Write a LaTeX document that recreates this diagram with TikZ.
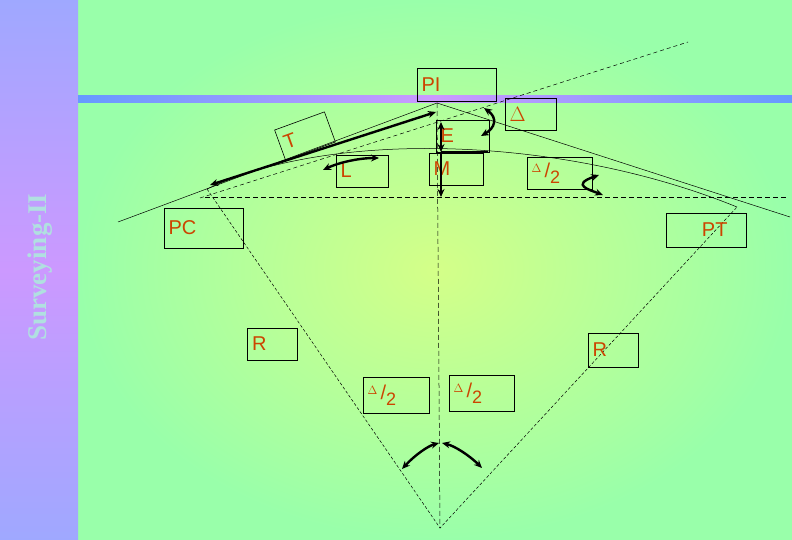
\documentclass[tikz,border=0pt]{standalone}
\usepackage{fontspec}
\setmainfont{Liberation Sans}
\newfontfamily\serifb{Liberation Serif}
\usetikzlibrary{arrows.meta}
\definecolor{lbl}{HTML}{CC4400}
\definecolor{bgA}{HTML}{99FFAA}
\definecolor{bgB}{HTML}{D4FF88}
\definecolor{barA}{HTML}{9FA8FF}
\definecolor{barB}{HTML}{CC99FF}
\definecolor{bandA}{HTML}{6699FF}
\definecolor{ttl}{HTML}{B0E0E0}
\newcommand{\halfD}{\raisebox{5pt}{\fontsize{12}{12}\selectfont$\Delta$}\,\fontsize{20}{20}\selectfont/\raisebox{-6pt}{\fontsize{18}{18}\selectfont 2}}
\begin{document}
\begin{tikzpicture}[x=1pt,y=-1pt,
 lbox/.style={draw=black,line width=0.6pt,text=lbl,font=\fontsize{20}{22}\selectfont},
 thin/.style={line width=0.5pt},
 dsh/.style={line width=0.5pt,dash pattern=on 5pt off 3pt},
 fat/.style={line width=2.4pt,{Stealth[length=8pt,width=7pt]}-{Stealth[length=8pt,width=7pt]}},
 fat1/.style={line width=2.4pt,-{Stealth[length=8pt,width=7pt]}}]
\useasboundingbox (0,0) rectangle (792,540);
\shade[inner color=bgB,outer color=bgA] (78,0) rectangle (792,540);
\shade[top color=barA,bottom color=barA,middle color=barB] (0,0) rectangle (78,540);
\shade[left color=bandA,right color=bandA,middle color=barB] (78,96) rectangle (792,103);
\node[rotate=90,text=ttl,font=\serifb\bfseries\fontsize{27}{29}\selectfont] (title) at (40,267) {Surveying-II};
% points
\coordinate (PC) at (207,189);
\coordinate (PIp) at (437,103);
\coordinate (PTp) at (737,207);
\coordinate (O) at (440,528);
\coordinate (t1) at (118,222);
\coordinate (t2) at (790,217);
\coordinate (d1) at (200,198);
\coordinate (d2) at (688,42);
\coordinate (c1) at (205,197);
\coordinate (c2) at (788,197);
% lines
\draw[thin] (t1) -- (PIp) -- (t2);
\draw[dsh,dash pattern=on 4pt off 3pt] (d1) -- (d2);
\draw[dsh] (c1) -- (c2);
\draw[dsh] (PIp) -- (O);
\draw[thin,dash pattern=on 3pt off 2pt] (PC) -- (O) -- (PTp);
\draw[thin] (PC) .. controls (330,130) and (560,135) .. (PTp);
% labels
\node[lbox,minimum width=79pt,minimum height=33pt,text width=70pt,align=left] (PI) at (456.5,84.5) {PI};
\node[lbox,minimum width=51pt,minimum height=32pt,text width=42pt,align=left] (Dl) at (530.5,114) {\fontsize{20}{20}\selectfont$\Delta$};
\node[lbox,minimum width=53pt,minimum height=32pt,text width=44pt,align=left] (E) at (462.5,136) {E};
\node[lbox,minimum width=54pt,minimum height=32pt,text width=45pt,align=left] (M) at (456,169) {M};
\node[lbox,minimum width=52pt,minimum height=32pt,text width=43pt,align=left] (L) at (362,171) {L};
\node[lbox,minimum width=53pt,minimum height=32pt,text width=44pt,align=left,rotate=20] (T) at (305,136) {T};
\node[lbox,minimum width=65pt,minimum height=32pt,text width=56pt,align=left] (D2a) at (559.5,173) {\halfD};
\node[lbox,minimum width=79pt,minimum height=40pt,text width=70pt,align=left] (PCl) at (203.5,228) {PC};
\node[lbox,minimum width=80pt,minimum height=34pt,text width=71pt,align=right] (PTl) at (706,230) {PT\hspace*{14pt}};
\node[lbox,minimum width=50pt,minimum height=32pt,text width=41pt,align=left] (R1) at (272.5,344) {R};
\node[lbox,minimum width=50pt,minimum height=34pt,text width=41pt,align=left] (R2) at (613,350) {R};
\node[lbox,minimum width=66pt,minimum height=36pt,text width=57pt,align=left] (D2b) at (396,395) {\halfD};
\node[lbox,minimum width=65pt,minimum height=36pt,text width=56pt,align=left] (D2c) at (481.5,393) {\halfD};
% arrows
\coordinate (Ta) at (210,185); \coordinate (Tb) at (436,112);
\draw[fat] (Ta) -- (Tb);
\coordinate (La) at (323,170); \coordinate (Lb) at (379,158);
\draw[fat] (La) .. controls (340,162) and (360,158) .. (Lb);
\coordinate (Ea) at (441,122); \coordinate (Eb) at (441,152); \coordinate (Mb) at (441,197);
\draw[fat] (Ea) -- (Eb);
\draw[fat1] (Eb) -- (Mb);
\draw[line width=2.4pt] (Eb) -- (488,152);
\coordinate (Da) at (484,108); \coordinate (Db) at (481,136);
\draw[fat] (Da) .. controls (498,118) and (495,128) .. (Db);
\coordinate (Qa) at (599,175); \coordinate (Qb) at (603,195);
\draw[fat] (Qa) .. controls (570,185) and (590,190) .. (Qb);
\coordinate (Ba) at (402,469); \coordinate (Bm) at (439,443); \coordinate (Bc) at (442,443); \coordinate (Bb) at (482,468);
\draw[fat] (Ba) .. controls (415,455) and (428,446) .. (Bm);
\draw[fat] (Bc) .. controls (455,446) and (470,456) .. (Bb);
\end{tikzpicture}
\end{document}
